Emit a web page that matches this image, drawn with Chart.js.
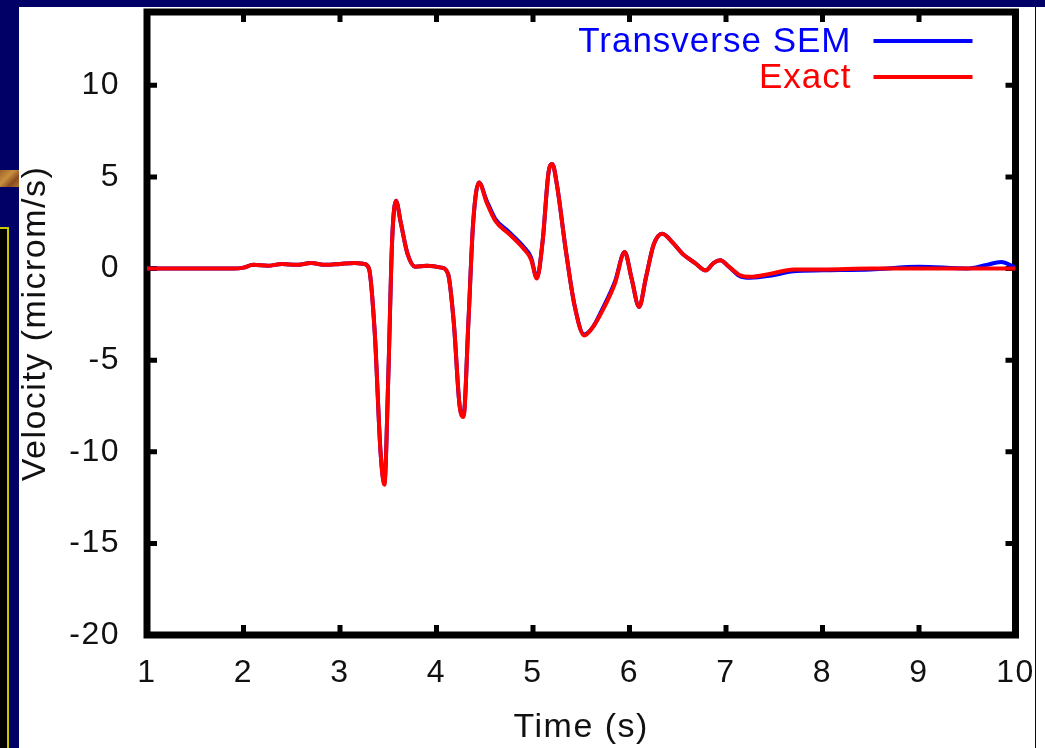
<!DOCTYPE html>
<html>
<head>
<meta charset="utf-8">
<script src="https://cdn.jsdelivr.net/npm/chart.js@4/dist/chart.umd.min.js"></script>
<style>
  html, body { margin: 0; padding: 0; }
  body { width: 1045px; height: 748px; background: #000066; position: relative; overflow: hidden; }
  #sheet { position: absolute; left: 19px; top: 7px; width: 1026px; height: 741px; background: #fff; }
  #edge { position: absolute; left: 1035px; top: 7px; width: 1px; height: 741px; background: #000066; }
  #chip { position: absolute; left: 0; top: 170px; width: 19px; height: 17px;
          background: linear-gradient(135deg, #a0602a, #c89040 40%, #8a4a20 70%, #b07a30); }
  #box { position: absolute; left: -100px; top: 227px; width: 105px; height: 600px;
         background: #000; border: 2px solid #c8c800; }
  #wrap { position: absolute; left: 0; top: 0; width: 1045px; height: 748px; }
</style>
</head>
<body>
<div id="sheet"></div>
<div id="edge"></div>
<div id="chip"></div>
<div id="box"></div>
<div id="wrap"><canvas id="chart"></canvas></div>
<script>
// valeurs (temps en s, vitesse en microm/s)
const times = [1.0, 1.9, 2.0, 2.1, 2.25, 2.4, 2.55, 2.7, 2.85, 3.0, 3.15, 3.25, 3.3, 3.36, 3.42, 3.46,
  3.5, 3.54, 3.58, 3.63, 3.7, 3.78, 3.9, 4.05, 4.12, 4.18, 4.24, 4.28, 4.33, 4.38, 4.44, 4.52,
  4.61, 4.75, 4.9, 4.98, 5.04, 5.1, 5.16, 5.2, 5.25, 5.34, 5.43, 5.53, 5.62, 5.72, 5.85, 5.95,
  6.02, 6.1, 6.17, 6.25, 6.34, 6.45, 6.55, 6.68, 6.79, 6.87, 6.94, 7.03, 7.14, 7.25, 7.45, 7.7,
  8.0, 8.5, 9.0, 9.5, 9.7, 9.85, 10.0];

const exactVel = [0, 0, 0.05, 0.2, 0.15, 0.25, 0.2, 0.3, 0.2, 0.25, 0.3, 0.25, 0.0, -3.5, -10, -11.8,
  -6, 1.5, 3.7, 2.5, 0.8, 0.1, 0.15, 0.05, -0.3, -3, -7.5, -8.1, -3, 2.5, 4.7, 3.6,
  2.6, 1.9, 1.1, 0.5, -0.55, 1.5, 5.2, 5.7, 4.5, 1.0, -2.0, -3.65, -3.2, -2.3, -0.8, 0.9,
  -0.5, -2.1, -0.5, 1.3, 1.9, 1.4, 0.8, 0.3, -0.1, 0.3, 0.45, 0.1, -0.35, -0.45, -0.3, -0.05,
  -0.05, 0, 0, 0, 0, 0, 0];

const semVel = [0, 0, 0.05, 0.2, 0.15, 0.25, 0.2, 0.3, 0.2, 0.25, 0.3, 0.25, 0.0, -3.5, -10, -11.7,
  -6, 1.5, 3.7, 2.5, 0.8, 0.1, 0.15, 0.05, -0.3, -3, -7.5, -8.0, -3, 2.5, 4.7, 3.7,
  2.7, 2.0, 1.2, 0.6, -0.5, 1.5, 5.2, 5.7, 4.5, 1.0, -2.0, -3.6, -3.2, -2.2, -0.7, 0.9,
  -0.5, -2.1, -0.5, 1.3, 1.9, 1.4, 0.8, 0.3, -0.1, 0.3, 0.45, 0.1, -0.4, -0.5, -0.4, -0.15,
  -0.1, -0.05, 0.1, 0.0, 0.2, 0.35, 0.05];

const xTicks = [1, 2, 3, 4, 5, 6, 7, 8, 9, 10];
const yTicks = [-20, -15, -10, -5, 0, 5, 10];

const FONT = "'Liberation Sans', Arial, Helvetica, sans-serif";

const toPoints = vals => times.map((t, i) => ({ x: t, y: vals[i] }));

// cadre épais + petits tirets vers l'intérieur, façon gnuplot
const framePlugin = {
  id: 'frame',
  beforeDraw(chart) {
    // le rendu gnuplot espace un peu plus les lettres
    chart.ctx.letterSpacing = '1.5px';
  },
  beforeDatasetsDraw(chart) {
    const { ctx, chartArea: a, scales } = chart;
    ctx.save();
    ctx.strokeStyle = '#000';
    ctx.lineWidth = 7;
    ctx.lineJoin = 'miter';
    ctx.strokeRect(a.left, a.top, a.right - a.left, a.bottom - a.top);
    ctx.lineWidth = 5;
    const len = 10;
    ctx.beginPath();
    xTicks.forEach(v => {
      const px = scales.x.getPixelForValue(v);
      ctx.moveTo(px, a.bottom); ctx.lineTo(px, a.bottom - len);
      ctx.moveTo(px, a.top); ctx.lineTo(px, a.top + len);
    });
    yTicks.forEach(v => {
      const py = scales.y.getPixelForValue(v);
      ctx.moveTo(a.left, py); ctx.lineTo(a.left + len, py);
      ctx.moveTo(a.right, py); ctx.lineTo(a.right - len, py);
    });
    ctx.stroke();
    ctx.restore();
  },
  afterDatasetsDraw(chart) {
    // légende : texte aligné à droite puis échantillon de trait
    const { ctx, chartArea: a } = chart;
    ctx.save();
    ctx.font = '35px ' + FONT;
    ctx.letterSpacing = '1px';
    ctx.textAlign = 'right';
    ctx.textBaseline = 'middle';
    const items = chart.data.datasets.slice().sort((p, q) => q.order - p.order);
    items.forEach((ds, i) => {
      const y = a.top + 29 + i * 36;
      ctx.fillStyle = ds.borderColor;
      ctx.fillText(ds.label, a.right - 164, y + 1);
      ctx.strokeStyle = ds.borderColor;
      ctx.lineWidth = 4;
      ctx.beginPath();
      ctx.moveTo(a.right - 142, y);
      ctx.lineTo(a.right - 43, y);
      ctx.stroke();
    });
    ctx.restore();
  }
};

new Chart(document.getElementById('chart'), {
  type: 'line',
  data: {
    datasets: [
      {
        label: 'Transverse SEM',
        data: toPoints(semVel),
        borderColor: '#0000ff',
        borderWidth: 4,
        pointRadius: 0,
        cubicInterpolationMode: 'monotone',
        order: 1,
      },
      {
        label: 'Exact',
        data: toPoints(exactVel),
        borderColor: '#ff0000',
        borderWidth: 4,
        pointRadius: 0,
        cubicInterpolationMode: 'monotone',
        order: 0,
      },
    ],
  },
  options: {
    responsive: true,
    maintainAspectRatio: false,
    animation: false,
    layout: { padding: { left: 0, right: 29.5, top: 12, bottom: 0 } },
    plugins: {
      legend: { display: false },
      tooltip: { enabled: false },
    },
    scales: {
      x: {
        type: 'linear',
        min: 1,
        max: 10,
        grid: { display: false },
        border: { display: false },
        afterBuildTicks: s => { s.ticks = xTicks.map(v => ({ value: v })); },
        afterFit: s => { s.height = 113; s.paddingLeft = 0; s.paddingRight = 0; },
        ticks: {
          color: '#111',
          font: { family: FONT, size: 32 },
          padding: 11,
          maxRotation: 0,
        },
        title: {
          display: true,
          text: 'Time (s)',
          color: '#111',
          font: { family: FONT, size: 34 },
          padding: { top: 0, bottom: 0 },
        },
      },
      y: {
        min: -20,
        max: 14,
        grid: { display: false },
        border: { display: false },
        afterBuildTicks: s => { s.ticks = yTicks.map(v => ({ value: v })); },
        afterFit: s => { s.width = 147; s.paddingTop = 0; s.paddingBottom = 0; },
        ticks: {
          color: '#111',
          font: { family: FONT, size: 32 },
          padding: 19,
        },
        title: {
          display: true,
          text: 'Velocity (microm/s)',
          color: '#111',
          font: { family: FONT, size: 34 },
          padding: { top: 15, bottom: 0 },
        },
      },
    },
  },
  plugins: [framePlugin],
});
</script>
</body>
</html>
